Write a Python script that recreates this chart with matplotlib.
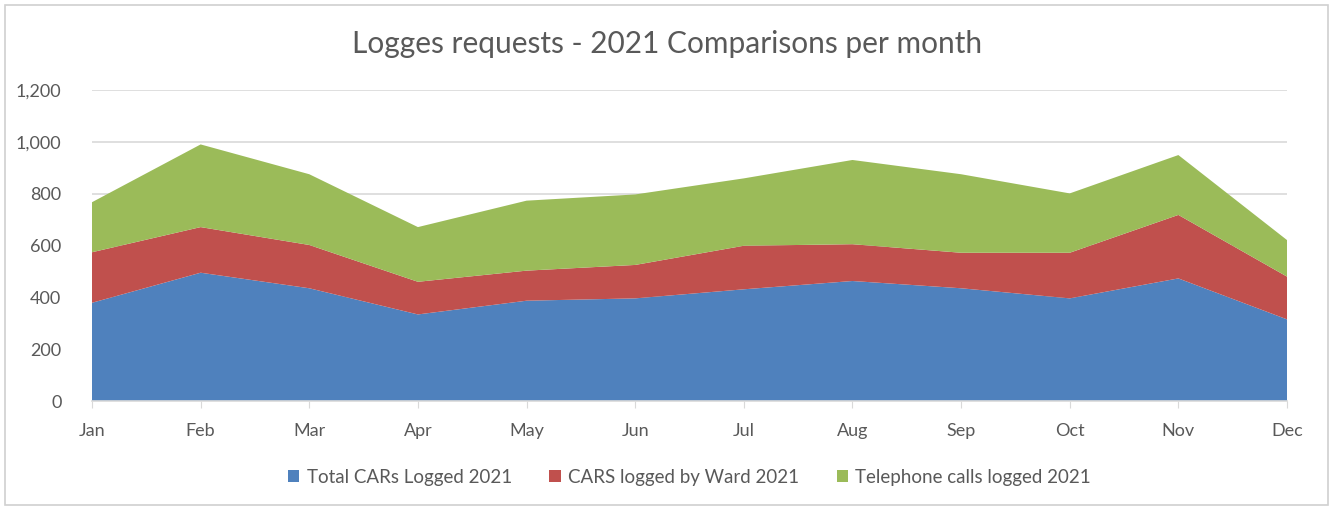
import matplotlib.pyplot as plt
from matplotlib.patches import Rectangle
from matplotlib.ticker import FuncFormatter

plt.rcParams['font.family'] = ['Lato', 'DejaVu Sans']

months = ['Jan', 'Feb', 'Mar', 'Apr', 'May', 'Jun',
          'Jul', 'Aug', 'Sep', 'Oct', 'Nov', 'Dec']
total_cars = [379, 495, 435, 334, 387, 396, 431, 463, 435, 396, 473, 315]
cars_by_ward = [195, 176, 167, 126, 116, 129, 168, 142, 137, 176, 245, 165]
phone_calls = [193, 319, 273, 211, 270, 272, 260, 325, 303, 229, 231, 141]
series_names = ['Total CARs Logged 2021', 'CARS logged by Ward 2021',
                'Telephone calls logged 2021']
colors = ['#4F81BD', '#C0504D', '#9BBB59']

text_grey = '#595959'

fig = plt.figure(figsize=(13.35, 5.07), dpi=100)
ax = fig.add_axes([92 / 1335, 106 / 507, 1195 / 1335, 311 / 507])

x = list(range(len(months)))
ax.stackplot(x, total_cars, cars_by_ward, phone_calls,
             colors=colors, labels=series_names, zorder=2)

ax.set_xlim(0, len(months) - 1)
ax.set_ylim(0, 1200)
ax.set_yticks(range(0, 1201, 200))
ax.yaxis.set_major_formatter(FuncFormatter(lambda v, _: f'{int(v):,}'))
ax.set_xticks(x)
ax.set_xticklabels(months)

ax.grid(axis='y', color='#d9d9d9', linewidth=1.2, zorder=0)
ax.set_axisbelow(True)
for side in ['top', 'right', 'left']:
    ax.spines[side].set_visible(False)
ax.spines['bottom'].set_color('#d9d9d9')
ax.spines['bottom'].set_linewidth(1.2)
ax.tick_params(axis='y', length=0, pad=22, labelsize=13, labelcolor=text_grey)
ax.tick_params(axis='x', length=5, color='#d9d9d9', pad=11,
               labelsize=13, labelcolor=text_grey)

fig.text(0.5, 1 - 44 / 507, 'Logges requests - 2021 Comparisons per month',
         ha='center', va='center', fontsize=21.5, color=text_grey)

ax.legend(loc='center', bbox_to_anchor=(0.5, -0.245), ncol=3, frameon=False,
          fontsize=13.5, labelcolor=text_grey, handlelength=0.6,
          handleheight=0.6, handletextpad=0.4, columnspacing=2.0)

# chart area border
fig.patches.append(Rectangle((5 / 1335, 2 / 507), 1323 / 1335, 500 / 507,
                             transform=fig.transFigure, fill=False,
                             edgecolor='#d0d0d0', linewidth=1.2))

fig.savefig('out.png', dpi=100)
